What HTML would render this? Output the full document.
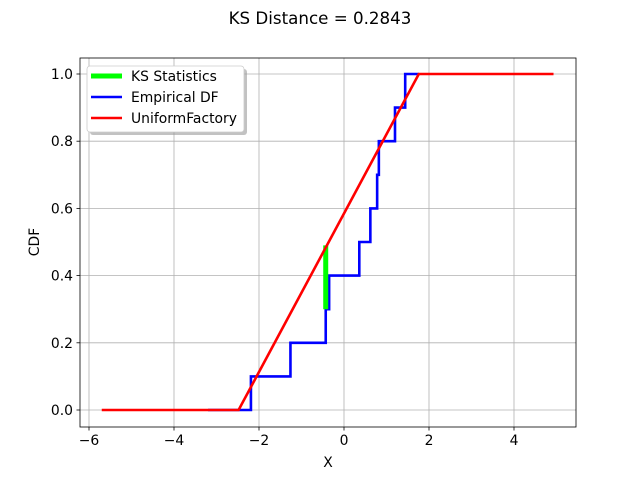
<!DOCTYPE html>
<html><head><meta charset="utf-8"><style>
body{margin:0;background:#fff}
text{font-family:"DejaVu Sans","Liberation Sans",sans-serif;fill:#000}
</style></head><body>
<svg id="c" width="640" height="480" xmlns="http://www.w3.org/2000/svg"></svg>
<script>
const xTicks=[-6,-4,-2,0,2,4];
const yTicks=[0.0,0.2,0.4,0.6,0.8,1.0];
const empX=[-3.2,-2.19,-1.26,-0.43,-0.35,0.36,0.62,0.78,0.82,1.20,1.44,1.76];
const empY=[0,0.1,0.2,0.3,0.4,0.5,0.6,0.7,0.8,0.9,1.0,1.0];
const unifX=[-5.7,-2.48,1.76,4.93];
const unifY=[0,0,1,1];
const ksX=[-0.43,-0.43];
const ksY=[0.3,0.49];
const L=80,R=576,T=58,B=427;
const sx=v=>344+v*42.5;
const sy=v=>410-v*336;
const svg=document.getElementById('c');
const NS='http://www.w3.org/2000/svg';
function mk(tag,attrs,parent){const e=document.createElementNS(NS,tag);for(const k in attrs)e.setAttribute(k,attrs[k]);(parent||svg).appendChild(e);return e;}
let t=mk('text',{x:320,y:24,'text-anchor':'middle','font-size':'16.7'});t.textContent='KS Distance = 0.2843';


xTicks.forEach(v=>{
 const g=mk('line',{x1:sx(v),x2:sx(v),y1:T,y2:B,stroke:'#b0b0b0','stroke-width':0.8});
 
 
 mk('line',{x1:sx(v),x2:sx(v),y1:B,y2:B+3.5,stroke:'#000','stroke-width':0.8});
 const tx=mk('text',{x:sx(v),y:B+18,'text-anchor':'middle','font-size':'13.9'});
 tx.textContent=(v<0?'\u2212'+(-v):v);
 
 
});
yTicks.forEach(v=>{
 const g=mk('line',{x1:L,x2:R,y1:sy(v),y2:sy(v),stroke:'#b0b0b0','stroke-width':0.8});
 
 
 mk('line',{x1:L-3.5,x2:L,y1:sy(v),y2:sy(v),stroke:'#000','stroke-width':0.8});
 const tx=mk('text',{x:L-7,y:sy(v)+5,'text-anchor':'end','font-size':'13.9'});
 tx.textContent=v.toFixed(1);
 
 
});
let d='M'+sx(empX[0])+','+sy(empY[0]);
for(let i=1;i<empX.length;i++){d+=' H'+sx(empX[i])+' V'+sy(empY[i]);}
const emp=mk('path',{d:d,fill:'none',stroke:'#0000ff','stroke-width':2.6});


const ks=mk('line',{x1:sx(ksX[0]),x2:sx(ksX[1]),y1:sy(ksY[0]),y2:sy(ksY[1]),stroke:'#00ff00','stroke-width':5});


const up=mk('polyline',{points:unifX.map((x,i)=>sx(x)+','+sy(unifY[i])).join(' '),fill:'none',stroke:'#ff0000','stroke-width':2.6});


const frame=mk('rect',{x:L,y:T,width:R-L,height:B-T,fill:'none',stroke:'#000','stroke-width':0.8});


let xl=mk('text',{x:328,y:467,'text-anchor':'middle','font-size':'13.9'});xl.textContent='X';


let yl=mk('text',{x:39,y:242,'text-anchor':'middle','font-size':'13.9',transform:'rotate(-90 39 242)'});yl.textContent='CDF';


const lg=mk('g',{});


mk('rect',{x:90,y:69,width:157,height:66,rx:3,fill:'#999',opacity:0.6},lg);
mk('rect',{x:87,y:66,width:157,height:66,rx:3,fill:'#fff',stroke:'#ccc','stroke-width':0.8},lg);
const items=[['KS Statistics','#00ff00',5],['Empirical DF','#0000ff',2.6],['UniformFactory','#ff0000',2.6]];
items.forEach((it,i)=>{
 const y=76+i*21;
 const e=mk('g',{},lg);
 
 
 mk('line',{x1:91,x2:122,y1:y,y2:y,stroke:it[1],'stroke-width':it[2]},e);
 const tx=mk('text',{x:131,y:y+5,'font-size':'13.9'},e);tx.textContent=it[0];
});
</script>
</body></html>
